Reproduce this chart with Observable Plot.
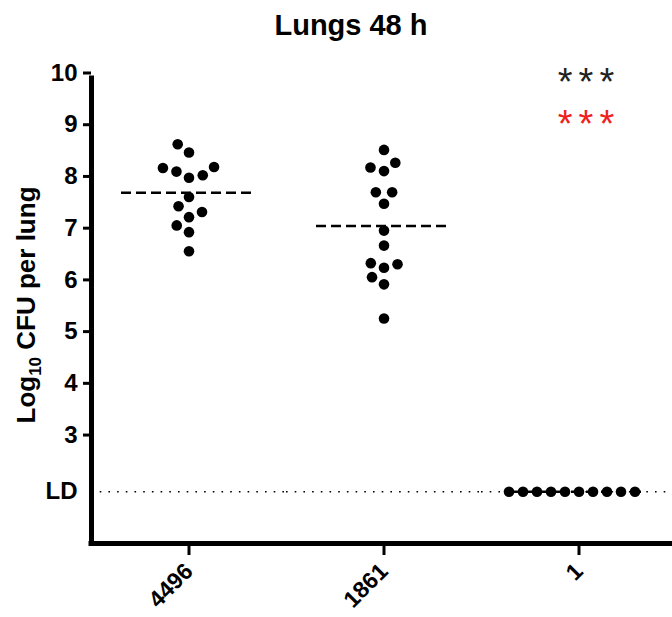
<!DOCTYPE html>
<html><head><meta charset="utf-8">
<script src="https://cdn.jsdelivr.net/npm/d3@7"></script>
<script src="https://cdn.jsdelivr.net/npm/@observablehq/plot@0.6"></script>
<style>
body{margin:0;background:#fff;overflow:hidden;}
#wrap{position:relative;width:672px;height:617px;}
#title{position:absolute;top:0;left:151px;width:400px;text-align:center;font:bold 29px "Liberation Sans",Arial,sans-serif;line-height:29px;padding-top:11px;color:#000;}
</style></head><body><div id="wrap"><div id="title">Lungs 48 h</div></div>
<script>
// Groups (x categories)
const groups = ["4496", "1861", "1"];
// Log10 CFU per lung
const cfu4496 = [8.56, 8.07, 7.70, 7.31, 7.02, 6.65, 8.72, 8.19, 7.52, 7.15, 8.12, 7.41, 8.28, 8.26];
const cfu1861 = [8.61, 8.20, 7.57, 6.76, 6.33, 6.01, 5.35, 8.27, 7.79, 7.05, 6.42, 6.15, 8.36, 7.79, 6.40];
const cfu1 = [2, 2, 2, 2, 2, 2, 2, 2, 2, 2];
// Y tick values and detection limit
const yTicks = [3, 4, 5, 6, 7, 8, 9, 10];
const ldValue = 2;
const ldLabel = "LD";
// Significance annotations
const sigLabels = ["***", "***"];

const seriesByGroup = [cfu4496, cfu1861, cfu1];
const data = groups.flatMap((g, i) => seriesByGroup[i].map(v => ({group: g, value: v})));

const chart = Plot.plot({
  width: 672,
  height: 617,
  marginLeft: 90,
  marginRight: -4,
  marginTop: 77.5,
  marginBottom: 74,
  style: {fontFamily: "'Liberation Sans', Arial, sans-serif", background: "white", color: "black", overflow: "hidden"},
  fx: {domain: groups, padding: 0},
  y: {domain: [1, 10]},
  marks: [
    Plot.ruleY([ldValue], {stroke: "black", strokeWidth: 1.6, strokeDasharray: "1.6 7.1"}),
    Plot.ruleY(data, Plot.groupZ({y: "mean"}, {y: "value", fx: "group", insetLeft: 30, insetRight: 30, stroke: "black", strokeWidth: 2.6, strokeDasharray: "10 5"})),
    Plot.dot(data, Plot.dodgeX({anchor: "middle", padding: 3.4}, {y: "value", fx: "group", r: 5.3, fill: "black"})),
    Plot.text([sigLabels[0]], {fx: [groups[2]], frameAnchor: "top", lineAnchor: "middle", dx: 10, dy: 5.3, fontSize: 38, fill: "#222", className: "sig"}),
    Plot.text([sigLabels[1]], {fx: [groups[2]], frameAnchor: "top", lineAnchor: "middle", dx: 10, dy: 46.8, fontSize: 38, fill: "#f02020", className: "sig"}),
    Plot.axisY({ticks: yTicks, tickSize: 8, tickPadding: 6, strokeWidth: 3, fontSize: 24, fontWeight: "bold", label: null, dy: -5}),
    Plot.axisY({ticks: [ldValue], tickSize: 0, tickPadding: 14, tickFormat: () => ldLabel, fontSize: 24, fontWeight: "bold", label: null}),
    Plot.axisFx({anchor: "bottom", tickSize: 12, tickPadding: 12, strokeWidth: 3, tickRotate: -45, fontSize: 23, fontWeight: "bold", label: null}),
    Plot.ruleY([1], {stroke: "black", strokeWidth: 5, strokeLinecap: "square"}),
    Plot.frame({anchor: "left", facetAnchor: "left", stroke: "black", strokeWidth: 5, strokeLinecap: "square"})
  ]
});

const svg = d3.select(chart);
svg.selectAll("text").filter(function() { return this.textContent === "***"; })
  .style("letter-spacing", "6px");

const lab = svg.append("text")
  .attr("transform", "translate(35,305) rotate(-90)")
  .attr("text-anchor", "middle")
  .attr("font-size", 26)
  .attr("font-weight", "bold")
  .attr("fill", "black");
lab.append("tspan").text("Log");
lab.append("tspan").attr("font-size", 17).attr("dy", 6).text("10");
lab.append("tspan").attr("dy", -6).text(" CFU per lung");

document.getElementById("wrap").prepend(chart);
</script>
</body></html>
